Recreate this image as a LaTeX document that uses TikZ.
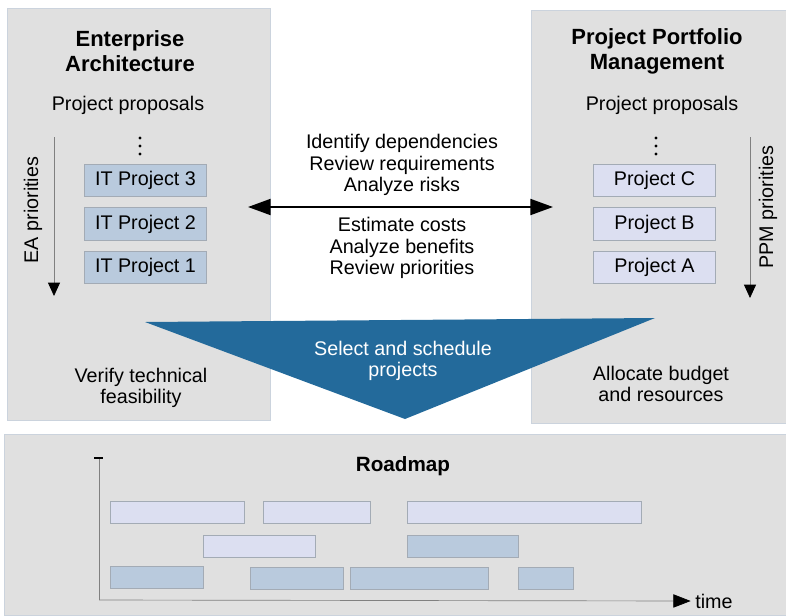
\documentclass[tikz,border=0pt]{standalone}
\usepackage{fontspec}
\setmainfont{Liberation Sans}
\usetikzlibrary{arrows.meta, positioning}

\definecolor{panelgray}{HTML}{E0E0E0}
\definecolor{paneledge}{HTML}{CBD3DD}
\definecolor{eablue}{HTML}{B9CADD}
\definecolor{ppmlilac}{HTML}{DCDFF1}
\definecolor{boxedge}{HTML}{A3ABB5}
\definecolor{funnelblue}{HTML}{236A9B}

\begin{document}
\begin{tikzpicture}[
  x=0.75pt, y=-0.75pt,
  every node/.style = {align=center, font=\fontsize{14.8}{16}\selectfont},
  panel/.style = {fill=panelgray, draw=paneledge, line width=0.6pt},
  title/.style = {font=\fontsize{16.5}{18.8}\selectfont\bfseries},
  eaproj/.style = {draw=boxedge, fill=eablue, line width=0.6pt,
    minimum width=92pt, minimum height=24.5pt, inner sep=0pt},
  ppmproj/.style = {eaproj, fill=ppmlilac},
  prio/.style = {draw=gray, line width=0.6pt,
    -{Triangle[length=10pt, width=9pt, color=black]}},
  bar/.style = {draw=boxedge, line width=0.5pt}
]
\useasboundingbox (0,0) rectangle (786,615);

% panels
\draw[panel] (7,8) rectangle (270,420);
\draw[panel] (531,10) rectangle (786,423);
\draw[panel] (4,434) rectangle (786,615);

% enterprise architecture
\node[title] (eatitle) at (130,51) {Enterprise\\Architecture};
\node (eaprop) at (128,105) {Project proposals};
\coordinate (eadots) at (140,146);
\foreach \d in {-8,0,8}
  \fill ([yshift=\d*0.75pt]eadots) circle (1.2pt);
\node[eaproj] (it3) at (145.5,180.5) {IT Project 3};
\node[eaproj, below=7.5pt of it3] (it2) {IT Project 2};
\node[eaproj, below=7.5pt of it2] (it1) {IT Project 1};
\coordinate (eatop) at (54,137);
\coordinate (eabot) at (54,296);
\draw[prio] (eatop) -- (eabot);
\node[rotate=90] (eaprio) at (33,210) {EA priorities};
\node (verify) at (141,388) {Verify technical\\feasibility};

% project portfolio management
\node[title] (ppmtitle) at (657,51) {Project Portfolio\\Management};
\node (ppmprop) at (662,105) {Project proposals};
\coordinate (ppmdots) at (656,146);
\foreach \d in {-8,0,8}
  \fill ([yshift=\d*0.75pt]ppmdots) circle (1.2pt);
\node[ppmproj] (projc) at (654.5,180.5) {Project C};
\node[ppmproj, below=7.5pt of projc] (projb) {Project B};
\node[ppmproj, below=7.5pt of projb] (proja) {Project A};
\coordinate (ppmtop) at (750,137);
\coordinate (ppmbot) at (750,298);
\draw[prio] (ppmtop) -- (ppmbot);
\node[rotate=90] (ppmprio) at (768,207) {PPM priorities};
\node (allocate) at (661,384) {Allocate budget\\and resources};

% exchange between both sides
\coordinate (eaport) at (248,207);
\coordinate (ppmport) at (553,207);
\draw[line width=1.5pt, {Triangle[length=17pt, width=12pt]}-{Triangle[length=17pt, width=12pt]}]
  (eaport) -- (ppmport);
\node (analysis) at (402,165) {Identify dependencies\\Review requirements\\Analyze risks};
\node (costs) at (402,248) {Estimate costs\\Analyze benefits\\Review priorities};

% selection funnel
\fill[funnelblue] (145,322) -- (655,318) -- (405,419) -- cycle;
\node[text=white] (select) at (403,361) {Select and schedule\\projects};

% roadmap
\node[font=\fontsize{15.5}{18}\selectfont\bfseries] (roadmap) at (403,466) {Roadmap};
\coordinate (origin) at (99,600);
\coordinate (axtop) at (99,458);
\node (time) at (714,601) {time};
\draw[gray, line width=0.5pt] (axtop) -- (origin);
\draw[line width=1pt] (94,458) -- (103,458);
\draw[gray, line width=0.5pt, -{Triangle[length=13pt, width=10pt, color=black]}] (origin) -- (time.west);
\foreach \xa/\xb/\ya/\c in {110/244/501/ppmlilac, 263/370/501/ppmlilac, 407/641/501/ppmlilac,
    203/315/535/ppmlilac, 407/518/535/eablue,
    110/203/566/eablue, 250/343/567/eablue, 350/488/567/eablue, 518/573/567/eablue}
  \draw[bar, fill=\c] (\xa,\ya) rectangle (\xb,{\ya+22});

\end{tikzpicture}
\end{document}
